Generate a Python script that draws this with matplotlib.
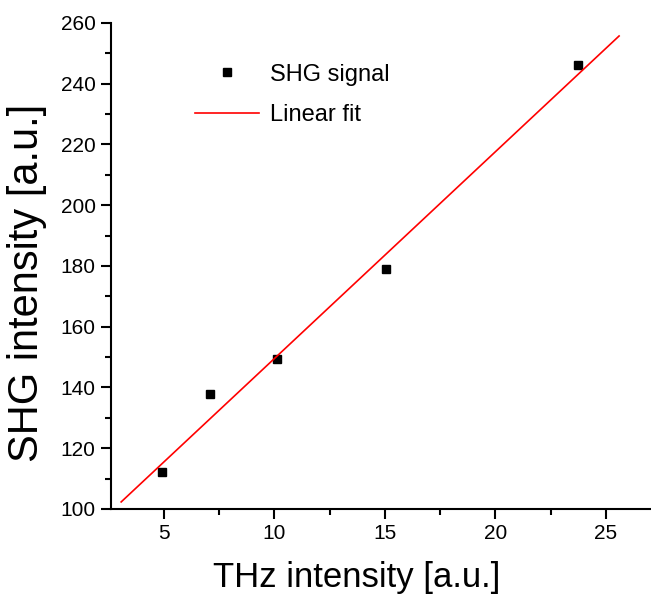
import matplotlib
matplotlib.use("Agg")
import matplotlib.pyplot as plt
from matplotlib.ticker import MultipleLocator

plt.rcParams['font.family'] = ['Liberation Sans', 'DejaVu Sans']

# measured points
thz = [4.9, 7.07, 10.1, 15.05, 23.74]
shg = [112.1, 137.7, 149.5, 179.0, 246.2]

# linear fit, end points
fit_x = [3.06, 25.6]
fit_y = [102.3, 255.7]

fig = plt.figure(figsize=(6.51, 6.03), dpi=100)
ax = fig.add_axes([0.1705, 0.156, 0.828, 0.806])

ax.plot(thz, shg, 's', color='black', markersize=6, label='SHG signal')
ax.plot(fit_x, fit_y, '-', color='red', linewidth=1.2, label='Linear fit')

ax.set_xlim(2.6, 27)
ax.set_ylim(100, 260)
ax.xaxis.set_major_locator(MultipleLocator(5))
ax.xaxis.set_minor_locator(MultipleLocator(2.5))
ax.yaxis.set_major_locator(MultipleLocator(20))
ax.yaxis.set_minor_locator(MultipleLocator(10))

ax.spines['top'].set_visible(False)
ax.spines['right'].set_visible(False)
for s in ('left', 'bottom'):
    ax.spines[s].set_linewidth(1.5)
ax.tick_params(which='major', direction='out', length=7, width=1.5, labelsize=15, pad=4)
ax.tick_params(which='minor', direction='out', length=4, width=1.5)

ax.set_xlabel('THz intensity [a.u.]', fontsize=25)
ax.xaxis.set_label_coords(0.455, -0.108)
ax.set_ylabel('SHG intensity [a.u.]', fontsize=30)
ax.yaxis.set_label_coords(-0.118, 0.465)

ax.legend(loc='upper left', bbox_to_anchor=(0.117, 0.96), frameon=False,
          fontsize=17, handlelength=2.7, handletextpad=0.45, labelspacing=0.8)

fig.savefig('out.png', dpi=100)
